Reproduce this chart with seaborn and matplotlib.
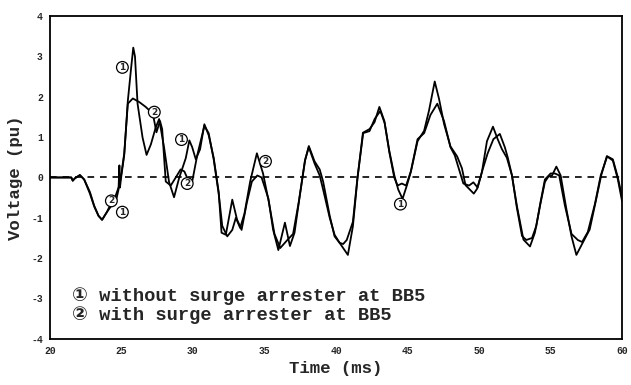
import matplotlib
matplotlib.use("Agg")
import matplotlib.pyplot as plt
import numpy as np
import pandas as pd
import seaborn as sns

# Bus voltage at BB5 without surge arrester (trace 1)
t_without = [20.0, 21.5, 21.6, 21.75, 22.1, 22.4, 22.8, 23.1, 23.4, 23.65, 24.0, 24.3, 24.6, 24.8,
             24.86, 24.9, 25.0, 25.2, 25.45, 25.67, 25.83, 25.95, 26.13, 26.48, 26.76, 27.06, 27.4,
             27.64, 27.99, 28.33, 28.68, 29.03, 29.5, 29.75, 29.95, 30.2, 30.5, 30.8, 31.1, 31.45,
             31.8, 32.0, 32.3, 32.75, 33.08, 33.4, 33.77, 34.12, 34.5, 34.8, 35.28, 35.6, 35.97,
             36.43, 36.78, 37.1, 37.47, 37.82, 38.1, 38.5, 38.86, 39.1, 39.56, 39.9, 40.25, 40.83,
             41.18, 41.5, 41.88, 42.34, 42.69, 43.03, 43.38, 43.73, 44.07, 44.35, 44.65, 44.95,
             45.23, 45.7, 46.16, 46.5, 46.9, 47.2, 47.55, 48.0, 48.47, 48.8, 49.05, 49.63, 49.86,
             50.2, 50.55, 50.97, 51.3, 51.6, 51.94, 52.29, 52.64, 53.1, 53.56, 53.9, 54.26, 54.6,
             54.84, 55.1, 55.4, 55.7, 56.1, 56.46, 56.8, 57.27, 57.73, 58.19, 58.54, 58.93, 59.35,
             59.7, 60.0]
v_without = [0.0, 0.0, -0.08, -0.02, 0.06, -0.05, -0.36, -0.7, -0.95, -1.05, -0.85, -0.7, -0.62, -0.3,
             0.3, -0.25, 0.05, 0.56, 1.9, 2.68, 3.22, 3.0, 1.83, 0.99, 0.56, 0.82, 1.24,
             1.45, 0.73, -0.11, -0.49, -0.02, 0.48, 0.92, 0.75, 0.45, 0.7, 1.32, 1.05, 0.49,
             -0.36, -1.37, -1.42, -0.55, -1.04, -1.3, -0.62, -0.1, 0.05, 0.0, -0.53, -1.29, -1.8,
             -1.12, -1.7, -1.37, -0.45, 0.4, 0.78, 0.4, 0.2, -0.1, -0.95, -1.46, -1.62, -1.92,
             -1.21, -0.03, 1.11, 1.2, 1.37, 1.75, 1.4, 0.65, 0.06, -0.3, -0.53, -0.2,
             0.14, 0.9, 1.16, 1.66, 2.38, 1.95, 1.33, 0.77, 0.52, 0.23, -0.19, -0.4, -0.28,
             0.14, 0.9, 1.26, 0.95, 0.7, 0.49, 0.06, -0.7, -1.54, -1.71, -1.37, -0.7, -0.11,
             0.02, 0.05, 0.27, 0.05, -0.78, -1.46, -1.92, -1.6, -1.29, -0.53, 0.06, 0.53, 0.45,
             0.0, -0.5]

# Bus voltage at BB5 with surge arrester (trace 2)
t_with = [20.0, 21.5, 21.6, 21.75, 22.1, 22.4, 22.8, 23.1, 23.4, 23.65, 24.0, 24.3, 24.6, 24.85,
          25.0, 25.2, 25.45, 25.8, 26.25, 26.7, 27.2, 27.45, 27.7, 27.85, 28.1, 28.45, 28.8,
          29.14, 29.4, 29.65, 29.95, 30.3, 30.8, 31.1, 31.45, 31.8, 32.05, 32.4, 32.75, 33.0,
          33.3, 33.6, 34.0, 34.47, 34.9, 35.3, 35.7, 36.1, 36.6, 37.0, 37.4, 37.85, 38.1, 38.5,
          38.86, 39.1, 39.56, 39.9, 40.25, 40.5, 40.75, 41.18, 41.5, 41.9, 42.34, 42.7, 43.1,
          43.4, 43.73, 44.07, 44.3, 44.6, 44.9, 45.23, 45.7, 46.16, 46.6, 47.08, 47.55, 48.0,
          48.3, 48.9, 49.3, 49.6, 49.9, 50.25, 50.6, 51.0, 51.45, 51.8, 52.0, 52.3, 52.64, 53.0,
          53.3, 53.7, 54.0, 54.3, 54.6, 55.0, 55.3, 55.6, 56.0, 56.46, 56.9, 57.2, 57.6, 58.1,
          58.5, 58.95, 59.35, 59.7, 60.0]
v_with = [0.0, 0.0, -0.08, -0.02, 0.06, -0.05, -0.4, -0.72, -0.95, -1.05, -0.85, -0.62, -0.45, -0.2,
          0.1, 0.6, 1.83, 1.96, 1.87, 1.75, 1.58, 1.12, 1.4, 1.2, -0.1, -0.2, 0.0,
          0.2, 0.15, -0.05, -0.1, 0.55, 1.28, 1.1, 0.45, -0.4, -1.2, -1.46, -1.3, -1.0,
          -1.25, -0.9, -0.1, 0.6, 0.1, -0.6, -1.4, -1.75, -1.55, -1.4, -0.6, 0.45, 0.75, 0.35,
          0.05, -0.3, -1.0, -1.42, -1.62, -1.65, -1.55, -1.1, 0.0, 1.1, 1.15, 1.45, 1.65,
          1.35, 0.62, 0.0, -0.2, -0.15, -0.2, 0.15, 0.95, 1.1, 1.55, 1.83, 1.4, 0.75,
          0.55, -0.15, -0.2, -0.12, -0.25, 0.2, 0.6, 0.95, 1.08, 0.75, 0.5, 0.05, -0.75, -1.45,
          -1.55, -1.5, -1.2, -0.6, -0.05, 0.1, 0.1, 0.05, -0.7, -1.4, -1.55, -1.6, -1.35, -0.65,
          0.05, 0.52, 0.42, -0.05, -0.6]

# Circled trace markers placed along the curves
marker_text = ["1", "2", "1", "2", "2", "2", "1", "1"]
marker_t = [25.07, 27.3, 29.2, 29.6, 35.07, 24.3, 25.07, 44.5]
marker_v = [2.73, 1.62, 0.94, -0.15, 0.4, -0.58, -0.86, -0.66]

legend_lines = ["\u2460 without surge arrester at BB5",
                "\u2461 with surge arrester at BB5"]

x_ticks = [20, 25, 30, 35, 40, 45, 50, 55, 60]
x_ticklabels = ["20", "25", "30", "35", "40", "45", "50", "55", "60"]
y_ticks = [-4, -3, -2, -1, 0, 1, 2, 3, 4]
y_ticklabels = ["-4", "-3", "-2", "-1", "0", "1", "2", "3", "4"]

df = pd.concat([
    pd.DataFrame({"time": t_without, "voltage": v_without, "case": "without"}),
    pd.DataFrame({"time": t_with, "voltage": v_with, "case": "with"}),
], ignore_index=True)

sns.set_style("white")
plt.rcParams["font.family"] = ["Liberation Mono", "DejaVu Sans"]

fig = plt.figure(figsize=(6.31, 3.85), dpi=100)
ax = fig.add_axes([0.079, 0.12, 0.907, 0.838])

ax.axhline(0, color="black", lw=1.2, ls=(0, (4, 3.5)), zorder=1)

sns.lineplot(data=df, x="time", y="voltage", hue="case", units="case", estimator=None,
             sort=False, palette={"without": "black", "with": "black"}, linewidth=1.3,
             legend=False, ax=ax, zorder=2)

for txt, tx, ty in zip(marker_text, marker_t, marker_v):
    ax.text(tx, ty, txt, fontsize=6.5, fontweight="bold", ha="center", va="center",
            family=["DejaVu Sans"],
            bbox=dict(boxstyle="circle,pad=0.15", fc="white", ec="black", lw=0.9), zorder=3)

for i, line in enumerate(legend_lines):
    ax.text(21.55, -2.95 - i * 0.46, line, fontsize=13.5, fontweight="bold",
            family=["Liberation Mono", "DejaVu Sans"], ha="left", va="center", zorder=3)

ax.set_xlim(20, 60)
ax.set_ylim(-4, 4)
ax.set_xticks(x_ticks)
ax.set_xticklabels(x_ticklabels)
ax.set_yticks(y_ticks)
ax.set_yticklabels(y_ticklabels)
ax.tick_params(axis="both", direction="out", length=3, width=1, labelsize=7, pad=2)
for lab in ax.get_xticklabels() + ax.get_yticklabels():
    lab.set_fontweight("bold")

for side in ["left", "right", "top", "bottom"]:
    ax.spines[side].set_visible(True)
    ax.spines[side].set_color("black")
    ax.spines[side].set_linewidth(1.3)

ax.set_xlabel("Time (ms)", fontsize=12.5, fontweight="heavy", labelpad=4)
ax.set_ylabel("Voltage (pu)", fontsize=12.5, fontweight="heavy", labelpad=6)

fig.savefig("out.png", dpi=100, facecolor="white")
